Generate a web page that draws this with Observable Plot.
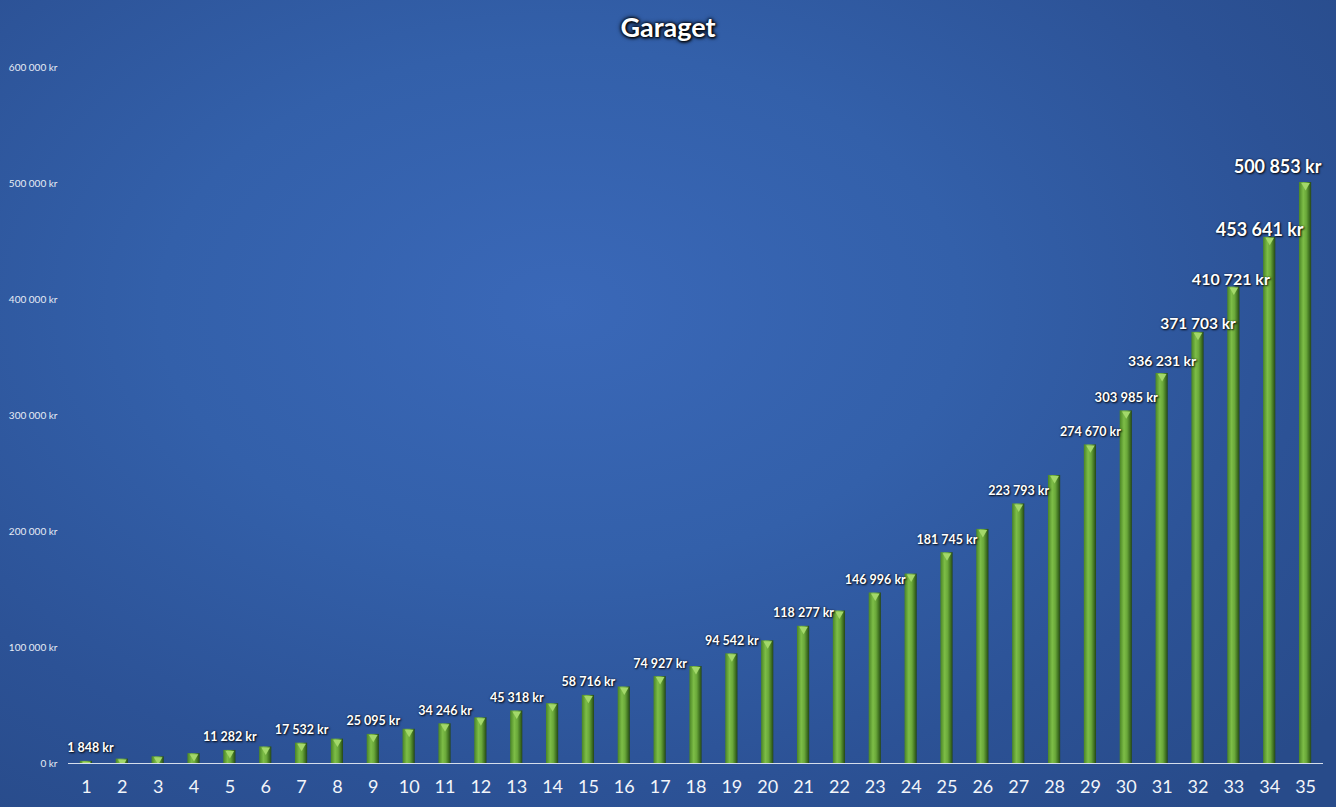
<!DOCTYPE html>
<html>
<head>
<meta charset="utf-8">
<script src="https://cdn.jsdelivr.net/npm/d3@7"></script>
<script src="https://cdn.jsdelivr.net/npm/@observablehq/plot@0.6"></script>
<style>
  html, body { margin: 0; padding: 0; }
  body { width: 1336px; height: 807px; overflow: hidden; }
  #wrap {
    position: relative; width: 1336px; height: 807px;
    background: radial-gradient(ellipse 75% 80% at 42% 38%, #3a68b8 0%, #3360aa 40%, #2c5296 75%, #284b8a 100%);
    font-family: Lato, "Open Sans", sans-serif;
  }
  #title {
    position: absolute; left: 0; top: 10px; width: 1336px; text-align: center;
    color: #fff; font-weight: bold; font-size: 27px;
    text-shadow: 0 0 3px #000, 0 0 5px #000, 1px 1px 3px #000;
  }
  #chart { position: absolute; left: 0; top: 0; }
  #chart svg g[aria-label="text"] text { text-shadow: 1px 1px 2px rgba(0,0,0,0.85), 0 0 2px rgba(0,0,0,0.6); }
</style>
</head>
<body>
<div id="wrap">
  <div id="title">Garaget</div>
  <div id="chart"></div>
</div>
<script>
const categories = d3.range(1, 36);
const values = [1848, 3800, 5800, 8500, 11282, 14300, 17532, 21000, 25095, 29500,
  34246, 39400, 45318, 51600, 58716, 66000, 74927, 83600, 94542, 105800,
  118277, 131500, 146996, 163300, 181745, 201800, 223793, 248300, 274670, 303985,
  336231, 371703, 410721, 453641, 500853];
const labeledBars = [1, 5, 7, 9, 11, 13, 15, 17, 19, 21, 23, 25, 27, 29, 30, 31, 32, 33, 34, 35];
const yTicks = [0, 100000, 200000, 300000, 400000, 500000, 600000];

const data = categories.map((c, i) => ({c, v: values[i]}));
const labels = data.filter(d => labeledBars.includes(d.c));

const fmt = v => d3.format(",")(v).replace(/,/g, " ") + " kr";

// label styling per group: [filter, fontSize, dy, dx]
const labelGroups = [
  [d => d.c === 1, 12.5, -9, 4],
  [d => d.c > 1 && d.c <= 29, 12.5, -9, 0],
  [d => d.c === 30, 13, -9, 0],
  [d => d.c === 31, 14, -7, 0],
  [d => d.c === 32, 15.5, -3, 0],
  [d => d.c === 33, 16, -2, -3],
  [d => d.c === 34, 18, -1, -10],
  [d => d.c === 35, 18, -10, -28]
];

const plot = Plot.plot({
  width: 1336,
  height: 807,
  marginTop: 67,
  marginBottom: 44,
  marginLeft: 68,
  marginRight: 13,
  style: {background: "transparent", fontFamily: "Lato, 'Open Sans', sans-serif", overflow: "visible"},
  x: {domain: categories, paddingInner: 0.66, paddingOuter: 0.33, round: false, label: null},
  y: {domain: [0, 600000], label: null},
  marks: [
    Plot.axisY({ticks: yTicks, tickFormat: fmt, tickSize: 0, tickPadding: 11, fontSize: 10, color: "#e6ecf5", label: null}),
    Plot.axisX({tickSize: 0, tickPadding: 17, fontSize: 18, color: "#f2f5fa", label: null}),
    Plot.barY(data, {x: "c", y: "v", fill: "url(#barGrad)"}),
    Plot.dot(data, {x: "c", y: "v", symbol: "triangle", rotate: 180, r: 3.2, dy: 3, fill: "#a3d86a", stroke: "none", clip: true}),
    Plot.ruleY([0], {stroke: "#d5deec", strokeWidth: 1.2}),
    ...labelGroups.map(([f, fs, dy, dx]) =>
      Plot.text(labels.filter(f), {x: "c", y: "v", text: d => fmt(d.v), fill: "white", fontWeight: "bold", fontSize: fs, lineAnchor: "bottom", dy, dx}))
  ]
});

const svgNS = "http://www.w3.org/2000/svg";
const defs = document.createElementNS(svgNS, "defs");
defs.innerHTML = `
<linearGradient id="barGrad" x1="0" x2="1" y1="0" y2="0">
  <stop offset="0" stop-color="#4a8526"/>
  <stop offset="0.35" stop-color="#7dbd47"/>
  <stop offset="0.6" stop-color="#6aa83a"/>
  <stop offset="0.85" stop-color="#3d6e20"/>
  <stop offset="1" stop-color="#24441a"/>
</linearGradient>`;
plot.insertBefore(defs, plot.firstChild);
document.getElementById("chart").appendChild(plot);
</script>
</body>
</html>
